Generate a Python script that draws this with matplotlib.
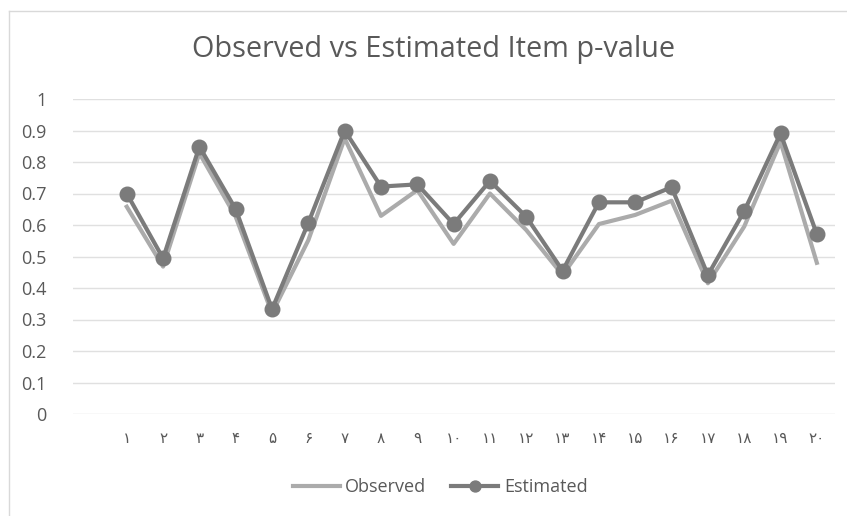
import matplotlib
matplotlib.use("Agg")
import matplotlib.pyplot as plt
from matplotlib.lines import Line2D

items = list(range(1, 21))
tick_labels = ["۱", "۲", "۳", "۴", "۵", "۶", "۷", "۸", "۹", "۱۰",
               "۱۱", "۱۲", "۱۳", "۱۴", "۱۵", "۱۶", "۱۷", "۱۸", "۱۹", "۲۰"]
observed = [0.658, 0.468, 0.828, 0.626, 0.32, 0.552, 0.875, 0.629, 0.711, 0.54,
            0.70, 0.584, 0.441, 0.603, 0.632, 0.677, 0.415, 0.595, 0.864, 0.48]
estimated = [0.70, 0.494, 0.849, 0.65, 0.333, 0.607, 0.90, 0.722, 0.729, 0.603,
             0.740, 0.626, 0.455, 0.672, 0.672, 0.72, 0.441, 0.644, 0.891, 0.571]
yticks = [0, 0.1, 0.2, 0.3, 0.4, 0.5, 0.6, 0.7, 0.8, 0.9, 1]
ytick_labels = ["0", "0.1", "0.2", "0.3", "0.4", "0.5", "0.6", "0.7", "0.8", "0.9", "1"]

plt.rcParams['font.family'] = ['Open Sans', 'DejaVu Sans']
W, H = 847, 516
fig = plt.figure(figsize=(W / 100, H / 100), dpi=100)
ax = fig.add_axes([73 / W, 1 - 414 / H, (835 - 73) / W, (414 - 99) / H])

ax.plot(items, observed, color="#ababab", lw=3, label="Observed", solid_joinstyle="round")
ax.plot(items, estimated, color="#7b7b7b", lw=3, marker="o", markersize=10.5,
        label="Estimated", solid_joinstyle="round")

ax.set_xlim(-0.48, 20.5)
ax.set_ylim(0, 1)
ax.set_yticks(yticks)
ax.set_yticklabels(ytick_labels)
ax.set_xticks(items)
ax.set_xticklabels(tick_labels, family=['DejaVu Sans'])
ax.tick_params(axis='both', length=0, colors="#595959")
ax.tick_params(axis='y', labelsize=13, pad=19)
ax.tick_params(axis='x', labelsize=11, pad=12)
ax.grid(axis='y', color="#e0e0e0", lw=1)
ax.set_axisbelow(True)
for s in ax.spines.values():
    s.set_visible(False)

fig.text(434 / W, 1 - 50 / H, "Observed vs Estimated Item p-value", ha="center", va="center",
         fontsize=20.8, color="#595959")

leg = fig.legend(loc="center", bbox_to_anchor=(440 / W, 1 - 487 / H), ncol=2, frameon=False,
                 fontsize=13, handlelength=2.6, columnspacing=1.4, handletextpad=0.3,
                 markerscale=0.75)
for t in leg.get_texts():
    t.set_color("#595959")

fig.add_artist(Line2D([8.5 / W, 1], [1 - 10.5 / H, 1 - 10.5 / H], transform=fig.transFigure,
                      color="#d9d9d9", lw=1))
fig.add_artist(Line2D([8.5 / W, 8.5 / W], [0, 1 - 10.5 / H], transform=fig.transFigure,
                      color="#d9d9d9", lw=1))
fig.savefig("out.png", dpi=100)
